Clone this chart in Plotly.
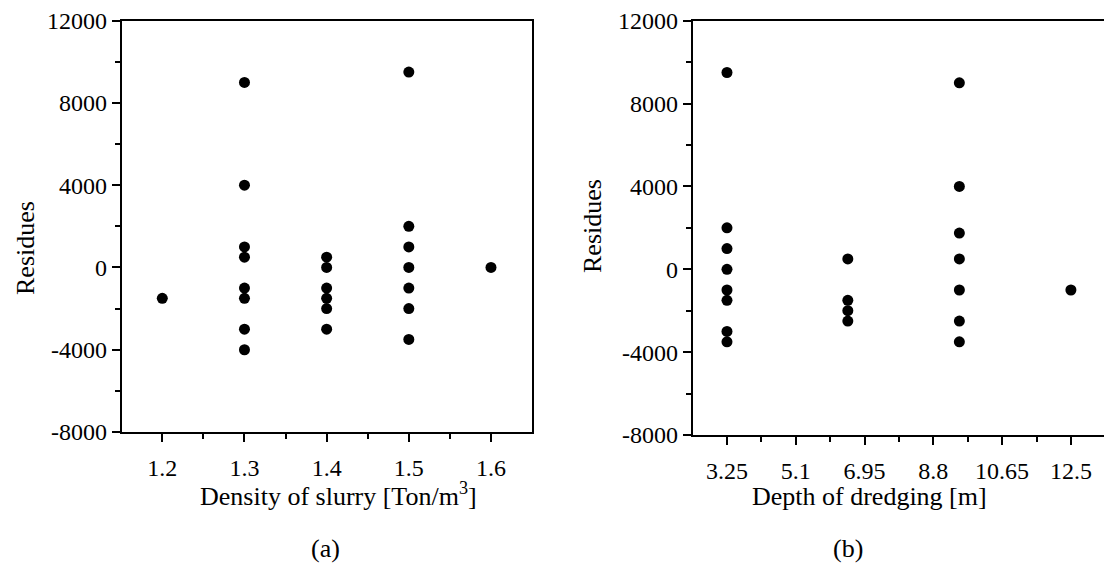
import plotly.graph_objects as go

# Panel (a): density of slurry vs residues
density_x = [1.2,
             1.3, 1.3, 1.3, 1.3, 1.3, 1.3, 1.3, 1.3,
             1.4, 1.4, 1.4, 1.4, 1.4, 1.4,
             1.5, 1.5, 1.5, 1.5, 1.5, 1.5, 1.5,
             1.6]
density_res = [-1500,
               9000, 4000, 1000, 500, -1000, -1500, -3000, -4000,
               500, 0, -1000, -1500, -2000, -3000,
               9500, 2000, 1000, 0, -1000, -2000, -3500,
               0]

# Panel (b): depth of dredging vs residues
depth_x = [3.25, 3.25, 3.25, 3.25, 3.25, 3.25, 3.25, 3.25,
           6.5, 6.5, 6.5, 6.5,
           9.5, 9.5, 9.5, 9.5, 9.5, 9.5, 9.5,
           12.5]
depth_res = [9500, 2000, 1000, 0, -1000, -1500, -3000, -3500,
             500, -1500, -2000, -2500,
             9000, 4000, 1750, 500, -1000, -2500, -3500,
             -1000]

depth_tickvals = [3.25, 5.1, 6.95, 8.8, 10.65, 12.5]
depth_ticktext = ["3.25", "5.1", "6.95", "8.8", "10.65", "12.5"]
density_tickvals = [1.2, 1.3, 1.4, 1.5, 1.6]
density_ticktext = ["1.2", "1.3", "1.4", "1.5", "1.6"]
y_tickvals = [-8000, -4000, 0, 4000, 8000, 12000]
y_ticktext = ["-8000", "-4000", "0", "4000", "8000", "12000"]

FONT = "Liberation Serif"
W, H = 1104, 564
marker = dict(color="black", size=11)

fig = go.Figure()
fig.add_trace(go.Scatter(x=density_x, y=density_res, mode="markers",
                         marker=marker, xaxis="x", yaxis="y", showlegend=False))
fig.add_trace(go.Scatter(x=depth_x, y=depth_res, mode="markers",
                         marker=marker, xaxis="x2", yaxis="y2", showlegend=False))

def minor(vals):
    return dict(ticks="outside", ticklen=5, tickwidth=2, tickcolor="black", tickvals=vals)

common_axis = dict(showline=True, linecolor="black", linewidth=2,
                   ticks="outside", ticklen=8, tickwidth=2, tickcolor="black",
                   showgrid=False, zeroline=False, automargin=False,
                   tickfont=dict(family=FONT, size=24, color="black"))

y_minor = [-6000, -2000, 2000, 6000, 10000]

fig.update_layout(
    width=W, height=H,
    margin=dict(l=0, r=0, t=0, b=0),
    paper_bgcolor="white", plot_bgcolor="white",
    font=dict(family=FONT, color="black"),
    xaxis=dict(common_axis, domain=[121.7 / W, 532 / W], range=[1.1506, 1.6499],
               anchor="y", mirror=True, tickvals=density_tickvals, ticktext=density_ticktext,
               ticklabelstandoff=5, minor=minor([1.25, 1.35, 1.45, 1.55])),
    yaxis=dict(common_axis, domain=[1 - 432 / H, 1 - 20.7 / H], range=[-8000, 12000],
               anchor="x", mirror=True, tickvals=y_tickvals, ticktext=y_ticktext,
               minor=minor(y_minor)),
    xaxis2=dict(common_axis, domain=[692.7 / W, 1.0], range=[2.328, 13.39],
                anchor="y2", mirror=True, tickvals=depth_tickvals, ticktext=depth_ticktext,
                ticklabelstandoff=5, minor=minor([4.175, 6.025, 7.875, 9.725, 11.575])),
    yaxis2=dict(common_axis, domain=[1 - 435 / H, 1 - 20.7 / H], range=[-8000, 12000],
                anchor="x2", mirror=False, tickvals=y_tickvals, ticktext=y_ticktext,
                minor=minor(y_minor)),
)

def ann(text, x, y, angle=0):
    return dict(text=text, x=x / W, y=1 - y / H, xref="paper", yref="paper",
                showarrow=False, xanchor="center", yanchor="middle", textangle=angle,
                font=dict(family=FONT, size=26, color="black"))

fig.update_layout(annotations=[
    ann("Density of slurry [Ton/m<sup>3</sup>]", 338, 494),
    ann("Depth of dredging [m]", 870, 496),
    ann("Residues", 26, 248, -90),
    ann("Residues", 592, 226, -90),
    ann("(a)", 325, 548),
    ann("(b)", 848, 548),
])

fig.write_html("out.html")
